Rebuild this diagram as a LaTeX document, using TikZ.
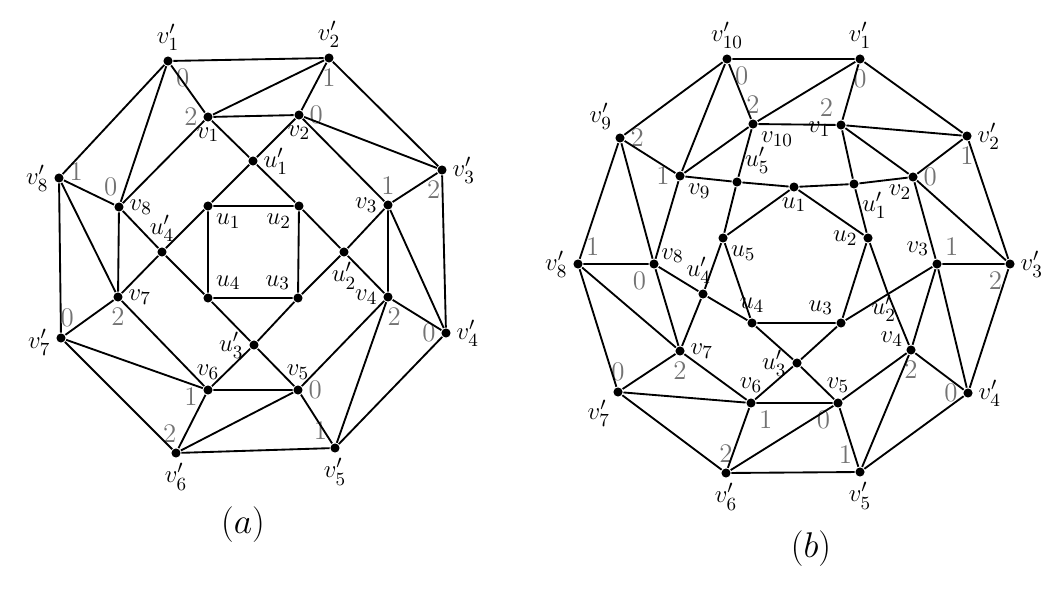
\documentclass[tikz,border=0pt]{standalone}
\usepackage{amsmath,amssymb}
\usepackage{tikz}

\begin{document}
\begin{tikzpicture}[x=0.017cm,y=-0.017cm,line width=0.9pt,
  vtx/.style={circle,fill,inner sep=0pt,minimum size=4.4pt},
  num/.style={text=black!55},
  every label/.style={font=\fontsize{13pt}{15pt}\selectfont,inner sep=0.5pt},
  label distance=1.5pt,
  captxt/.style={font=\fontsize{17pt}{20pt}\selectfont}]
  \useasboundingbox (0,0) rectangle (1059,601);

  % graph (a): outer vertices v'_i
  \node[vtx,label=above:{$v'_1$},label={[num]below right:0}] (av1p) at (168,61) {};
  \node[vtx,label=above:{$v'_2$},label={[num]below:1}] (av2p) at (329,58) {};
  \node[vtx,label=right:{$v'_3$},label={[num,xshift=-4pt]below:2}] (av3p) at (442,170) {};
  \node[vtx,label=right:{$v'_4$},label={[num]left:0}] (av4p) at (446,333) {};
  \node[vtx,label=below:{$v'_5$},label={[num]above left:1}] (av5p) at (335,448) {};
  \node[vtx,label=below:{$v'_6$},label={[num,xshift=-3pt]above:2}] (av6p) at (176,453) {};
  \node[vtx,label={[yshift=-2pt]left:{$v'_7$}},label={[num,xshift=3pt]above:0}] (av7p) at (61,338) {};
  \node[vtx,label=left:{$v'_8$},label={[num,yshift=3pt]right:1}] (av8p) at (59,178) {};
  % middle vertices v_i
  \node[vtx,label=below:{$v_1$},label={[num]left:2}] (av1) at (208,117) {};
  \node[vtx,label=below:{$v_2$},label={[num]right:0}] (av2) at (299,115) {};
  \node[vtx,label=left:{$v_3$},label={[num]above:1}] (av3) at (388,205) {};
  \node[vtx,label=left:{$v_4$},label={[num,xshift=3pt]below:2}] (av4) at (388,297) {};
  \node[vtx,label=above:{$v_5$},label={[num]right:0}] (av5) at (298,390) {};
  \node[vtx,label=above:{$v_6$},label={[num,yshift=-3pt]left:1}] (av6) at (208,390) {};
  \node[vtx,label=right:{$v_7$},label={[num]below:2}] (av7) at (118,297) {};
  \node[vtx,label=right:{$v_8$},label={[num,xshift=-4pt]above:0}] (av8) at (119,207) {};
  % inner vertices u'_i and u_i
  \node[vtx,label=right:{$u'_1$}] (au1p) at (253,161) {};
  \node[vtx,label=below:{$u'_2$}] (au2p) at (344,252) {};
  \node[vtx,label=left:{$u'_3$}] (au3p) at (254,345) {};
  \node[vtx,label=above:{$u'_4$}] (au4p) at (162,252) {};
  \node[vtx,label=below right:{$u_1$}] (au1) at (208,206) {};
  \node[vtx,label=below left:{$u_2$}] (au2) at (299,206) {};
  \node[vtx,label=above left:{$u_3$}] (au3) at (298,298) {};
  \node[vtx,label=above right:{$u_4$}] (au4) at (208,298) {};

  \draw (av1p) -- (av2p) -- (av3p) -- (av4p) -- (av5p) -- (av6p) -- (av7p) -- (av8p) -- (av1p);
  \draw (av1) -- (av2) -- (av3) -- (av4) -- (av5) -- (av6) -- (av7) -- (av8) -- (av1);
  \draw (av1p) -- (av1) -- (av2p) -- (av2) -- (av3p) -- (av3) -- (av4p) -- (av4) -- (av5p)
    -- (av5) -- (av6p) -- (av6) -- (av7p) -- (av7) -- (av8p) -- (av8) -- (av1p);
  \draw (av1) -- (au1p) -- (au2) -- (au2p) -- (av4);
  \draw (av2) -- (au1p) -- (au1) -- (au4p) -- (av7);
  \draw (av3) -- (au2p) -- (au3) -- (au3p) -- (av6);
  \draw (av8) -- (au4p) -- (au4) -- (au3p) -- (av5);
  \draw (au1) -- (au2) -- (au3) -- (au4) -- (au1);
  \node[captxt] (capa) at (243,525) {$(a)$};

  % graph (b): outer vertices v'_i
  \node[vtx,label=above:{$v'_{10}$},label={[num]below right:0}] (bv10p) at (727,59) {};
  \node[vtx,label=above:{$v'_1$},label={[num]below:0}] (bv1p) at (860,59) {};
  \node[vtx,label=right:{$v'_2$},label={[num]below:1}] (bv2p) at (967,136) {};
  \node[vtx,label=right:{$v'_3$},label={[num]below left:2}] (bv3p) at (1010,264) {};
  \node[vtx,label=right:{$v'_4$},label={[num]left:0}] (bv4p) at (968,393) {};
  \node[vtx,label=below:{$v'_5$},label={[num]above left:1}] (bv5p) at (860,472) {};
  \node[vtx,label=below:{$v'_6$},label={[num]above:2}] (bv6p) at (726,473) {};
  \node[vtx,label=below left:{$v'_7$},label={[num]above:0}] (bv7p) at (618,392) {};
  \node[vtx,label=left:{$v'_8$},label={[num]above right:1}] (bv8p) at (578,264) {};
  \node[vtx,label=above left:{$v'_9$},label={[num]right:2}] (bv9p) at (620,138) {};
  % middle vertices v_i
  \node[vtx,label=below right:{$v_{10}$},label={[num]above:2}] (bv10) at (753,124) {};
  \node[vtx,label={[yshift=-2pt]left:{$v_1$}},label={[num]above left:2}] (bv1) at (841,125) {};
  \node[vtx,label={[xshift=3pt]below left:{$v_2$}},label={[num]right:0}] (bv2) at (913,177) {};
  \node[vtx,label=above left:{$v_3$},label={[num]above right:1}] (bv3) at (937,264) {};
  \node[vtx,label={[yshift=-2pt]above left:{$v_4$}},label={[num]below:2}] (bv4) at (911,350) {};
  \node[vtx,label=above:{$v_5$},label={[num]below left:0}] (bv5) at (838,403) {};
  \node[vtx,label=above:{$v_6$},label={[num]below right:1}] (bv6) at (751,403) {};
  \node[vtx,label=right:{$v_7$},label={[num]below:2}] (bv7) at (680,351) {};
  \node[vtx,label={[xshift=-1.5pt,yshift=4pt]right:{$v_8$}},label={[num]below left:0}] (bv8) at (654,264) {};
  \node[vtx,label=below right:{$v_9$},label={[num]left:1}] (bv9) at (680,176) {};
  % inner vertices u'_i and u_i
  \node[vtx,label=below right:{$u'_1$}] (bu1p) at (854,184) {};
  \coordinate[label={[xshift=-2pt,yshift=2pt]below:{$u'_2$}}] (bu2p) at (888,294);
  \node[vtx,label=left:{$u'_3$}] (bu3p) at (797,363) {};
  \node[vtx,label={[xshift=-2pt]above:{$u'_4$}}] (bu4p) at (703,294) {};
  \node[vtx,label=above right:{$u'_5$}] (bu5p) at (737,182) {};
  \node[vtx,label=below:{$u_1$}] (bu1) at (794,187) {};
  \node[vtx,label=left:{$u_2$}] (bu2) at (868,238) {};
  \node[vtx,label=above left:{$u_3$}] (bu3) at (841,323) {};
  \node[vtx,label=above:{$u_4$}] (bu4) at (752,323) {};
  \node[vtx,label=below right:{$u_5$}] (bu5) at (723,238) {};

  \draw (bv10p) -- (bv1p) -- (bv2p) -- (bv3p) -- (bv4p) -- (bv5p) -- (bv6p) -- (bv7p) -- (bv8p)
    -- (bv9p) -- (bv10p);
  \draw (bv10) -- (bv1) -- (bv2) -- (bv3) -- (bv4) -- (bv5) -- (bv6) -- (bv7) -- (bv8) -- (bv9)
    -- (bv10);
  \draw (bv10p) -- (bv10) -- (bv1p) -- (bv1) -- (bv2p) -- (bv2) -- (bv3p) -- (bv3) -- (bv4p)
    -- (bv4) -- (bv5p) -- (bv5) -- (bv6p) -- (bv6) -- (bv7p) -- (bv7) -- (bv8p) -- (bv8)
    -- (bv9p) -- (bv9) -- (bv10p);
  \draw (bv9) -- (bu5p) -- (bu1) -- (bu1p) -- (bv2);
  \draw (bv10) -- (bu5p) -- (bu5) -- (bu4p) -- (bv7);
  \draw (bv1) -- (bu1p) -- (bu2) -- (bu2p) -- (bv4);
  \draw (bv3) -- (bu2p) -- (bu3) -- (bu3p) -- (bv6);
  \draw (bv5) -- (bu3p) -- (bu4) -- (bu4p) -- (bv8);
  \draw (bu1) -- (bu2) -- (bu3) -- (bu4) -- (bu5) -- (bu1);
  \node[captxt] (capb) at (811,549) {$(b)$};
\end{tikzpicture}
\end{document}
